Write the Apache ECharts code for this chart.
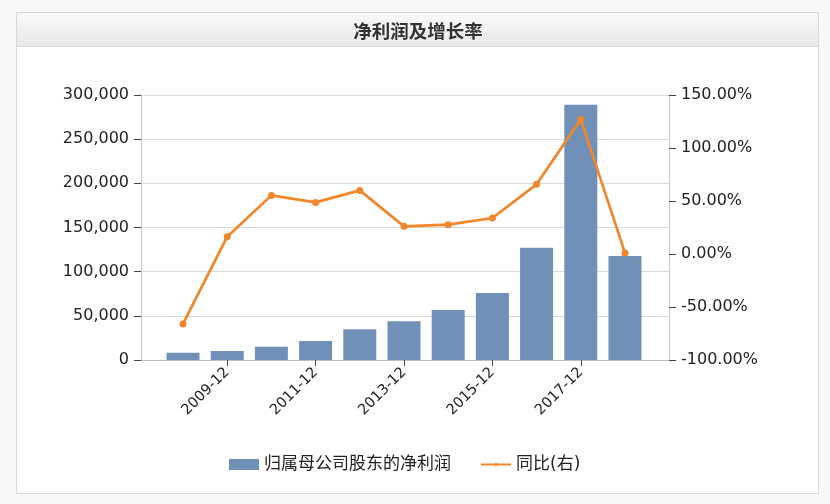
<!DOCTYPE html>
<html>
<head>
<meta charset="utf-8">
<script src="https://cdn.jsdelivr.net/npm/echarts@6/dist/echarts.min.js"></script>
<style>
html,body{margin:0;padding:0;background:#f7f8fa;}
#chart{width:830px;height:504px;}
</style>
</head>
<body>
<div id="chart"></div>
<script>
const titleText = '净利润及增长率';
const categories = ['2008-12','2009-12','2010-12','2011-12','2012-12','2013-12','2014-12','2015-12','2016-12','2017-12','2018-12'];
const profitName = '归属母公司股东的净利润';
const growthName = '同比(右)';
const profit = [8300, 10200, 15100, 21500, 34700, 43800, 56600, 75800, 127100, 289000, 117700];
const growth = [-66.0, 16.3, 55.3, 48.7, 60.0, 26.1, 27.7, 34.0, 65.7, 127.0, 1.0];
const leftAxis = { min: 0, max: 300000, interval: 50000 };
const rightAxis = { min: -100, max: 150, interval: 50 };

const FONT = '"DejaVu Sans", "Noto Sans CJK SC", sans-serif';
const chart = echarts.init(document.getElementById('chart'), null, { renderer: 'canvas' });

function commas(v) {
  return String(Math.round(v)).replace(/\B(?=(\d{3})+(?!\d))/g, ',');
}
const oddIdx = (i) => i % 2 === 1;

const gridTop = 95, gridBottom = 504 - 360;
const lineIcon = 'path://M0,0h0.01v0.01h-0.01z M29.99,10.99h0.01v0.01h-0.01z M0,4.5h30v2h-30z M13.2,5.5a1.8,1.8 0 1,1 3.6,0a1.8,1.8 0 1,1 -3.6,0z';

chart.setOption({
  backgroundColor: '#f7f8fa',
  animation: false,
  textStyle: { fontFamily: FONT },
  graphic: [
    { type: 'rect', z: -10, shape: { x: 16.5, y: 12.5, width: 802, height: 481 },
      style: { fill: '#ffffff', stroke: '#d9d9d9', lineWidth: 1 } },
    { type: 'rect', z: -9, shape: { x: 16.5, y: 12.5, width: 802, height: 34 },
      style: { fill: new echarts.graphic.LinearGradient(0, 0, 0, 1, [
        { offset: 0, color: '#fafafa' }, { offset: 1, color: '#e7e7e7' }]),
        stroke: '#d9d9d9', lineWidth: 1 } }
  ],
  title: {
    text: titleText,
    left: 413, top: 19, textAlign: 'center',
    textStyle: { fontSize: 18.5, fontWeight: 'bold', color: '#333', fontFamily: FONT }
  },
  legend: {
    left: 229, top: 456, padding: 0,
    itemWidth: 30, itemHeight: 11, itemGap: 30,
    textStyle: { fontSize: 17, color: '#222', fontFamily: FONT },
    data: [
      { name: profitName, icon: 'rect' },
      { name: growthName, icon: lineIcon }
    ]
  },
  grid: [
    { left: 141, right: 830 - 669, top: gridTop, bottom: gridBottom },
    { left: 160.9, right: 830 - 647.1, top: gridTop, bottom: gridBottom }
  ],
  xAxis: [
    { gridIndex: 0, type: 'value', min: 0, max: 1,
      axisLine: { show: true, onZero: false, lineStyle: { color: '#bdbdbd', width: 1 } },
      axisTick: { show: false }, axisLabel: { show: false }, splitLine: { show: false } },
    { gridIndex: 1, type: 'category', data: categories, boundaryGap: true,
      axisLine: { show: false },
      axisTick: { show: true, alignWithLabel: true, interval: (i) => oddIdx(i), length: 6,
        lineStyle: { color: '#444' } },
      axisLabel: { interval: (i) => oddIdx(i), rotate: 45, margin: 10, fontSize: 14.5, color: '#222',
        fontFamily: FONT } }
  ],
  yAxis: [
    { gridIndex: 0, type: 'value', position: 'left', min: leftAxis.min, max: leftAxis.max, interval: leftAxis.interval,
      axisLine: { show: true, lineStyle: { color: '#c8c8c8' } },
      axisTick: { show: true, length: 7, lineStyle: { color: '#444' } },
      axisLabel: { formatter: commas, fontSize: 16, color: '#222', margin: 12, fontFamily: FONT },
      splitLine: { show: true, lineStyle: { color: '#d9d9d9' } } },
    { gridIndex: 0, type: 'value', position: 'right', min: rightAxis.min, max: rightAxis.max, interval: rightAxis.interval,
      axisLine: { show: true, lineStyle: { color: '#c8c8c8' } },
      axisTick: { show: true, length: 7, lineStyle: { color: '#444' } },
      axisLabel: { formatter: (v) => v.toFixed(2) + '%', fontSize: 16, color: '#222', margin: 12, fontFamily: FONT },
      splitLine: { show: false } },
    { gridIndex: 1, type: 'value', show: false, min: leftAxis.min, max: leftAxis.max, interval: leftAxis.interval,
      splitLine: { show: false } },
    { gridIndex: 1, type: 'value', show: false, min: rightAxis.min, max: rightAxis.max, interval: rightAxis.interval,
      splitLine: { show: false } }
  ],
  series: [
    { name: profitName, type: 'bar', xAxisIndex: 1, yAxisIndex: 2, data: profit,
      barWidth: 33, itemStyle: { color: '#7190b7' } },
    { name: growthName, type: 'line', xAxisIndex: 1, yAxisIndex: 3, data: growth,
      symbol: 'circle', symbolSize: 7,
      itemStyle: { color: '#f1862a' }, lineStyle: { color: '#f1862a', width: 2.7 } }
  ]
});
</script>
</body>
</html>
